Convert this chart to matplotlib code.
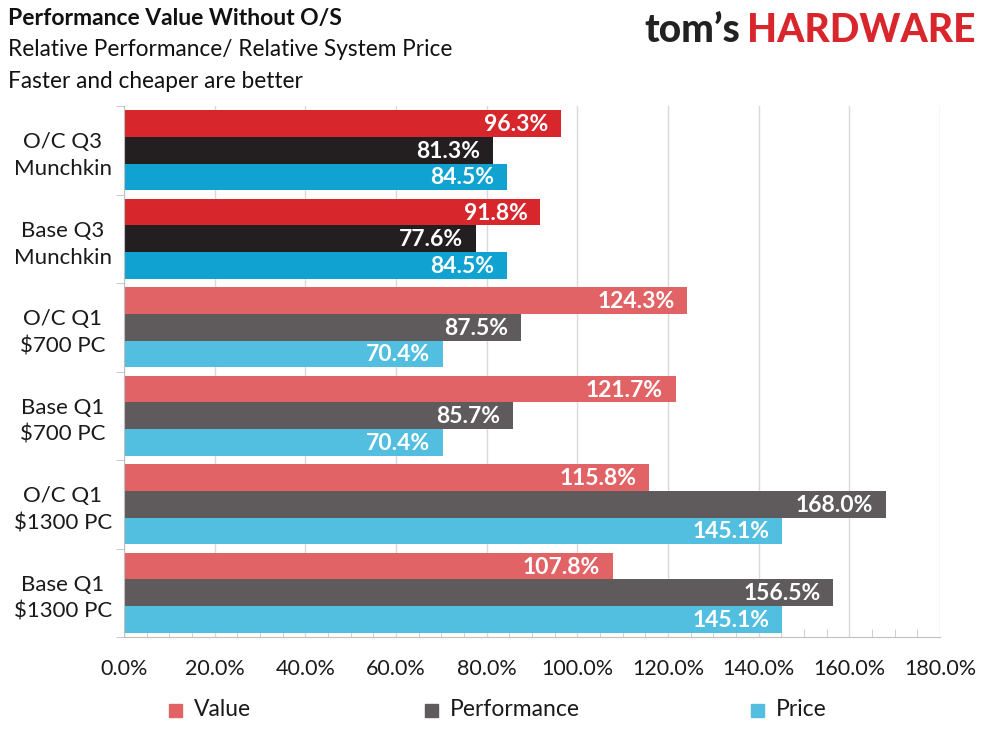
import numpy as np
import matplotlib.pyplot as plt

plt.rcParams['font.family'] = ['Lato', 'DejaVu Sans']

# data, top to bottom
systems = ['O/C Q3\nMunchkin', 'Base Q3\nMunchkin', 'O/C Q1\n$700 PC',
           'Base Q1\n$700 PC', 'O/C Q1\n$1300 PC', 'Base Q1\n$1300 PC']
value = [96.3, 91.8, 124.3, 121.7, 115.8, 107.8]
performance = [81.3, 77.6, 87.5, 85.7, 168.0, 156.5]
price = [84.5, 84.5, 70.4, 70.4, 145.1, 145.1]
series_names = ['Value', 'Performance', 'Price']
xticks = [0, 20, 40, 60, 80, 100, 120, 140, 160, 180]

# first two groups (Q3) use the strong colours, the rest the lighter ones
dark = ['#d7262c', '#231f20', '#10a2d0']
light = ['#e26366', '#5f5b5c', '#52bee0']

fig = plt.figure(figsize=(9.89, 7.41), dpi=100)
W, H = 989, 741
ax = fig.add_axes([124 / W, 1 - 637 / H, (940 - 124) / W, (637 - 106) / H])

y = np.arange(len(systems))
h = 0.3
all_series = [value, performance, price]
for k, vals in enumerate(all_series):
    cols = [dark[k] if i < 2 else light[k] for i in range(len(systems))]
    pos = y + (k - 1) * h
    ax.barh(pos, vals, height=h, color=cols, zorder=2)
    for p, v in zip(pos, vals):
        ax.text(v - 2.8, p + 0.01, f'{v:.1f}%', ha='right', va='center',
                color='white', fontsize=16.5, fontweight='bold', zorder=3)

ax.set_xlim(0, 180)
ax.set_ylim(len(systems) - 0.5, -0.5)
ax.set_xticks(xticks)
ax.set_xticklabels([f'{t:.1f}%' for t in xticks], fontsize=15.5, color='#1a1a1a')
ax.set_xticks(np.arange(0, 181, 5), minor=True)
ax.tick_params(axis='x', which='major', length=0, pad=16)
ax.tick_params(axis='x', which='minor', direction='in', length=6, color='#c8c8c8')
ax.grid(axis='x', which='major', color='#d9d9d9', lw=1, zorder=0)

ax.set_yticks(y)
ax.set_yticklabels(systems, fontsize=16, color='#1a1a1a', ha='center',
                   linespacing=1.45)
ax.tick_params(axis='y', which='major', length=0, pad=44)
ax.set_yticks(np.arange(-0.5, len(systems), 1), minor=True)
ax.tick_params(axis='y', which='minor', direction='out', length=6, color='#bfbfbf')

for s in ['top', 'right']:
    ax.spines[s].set_visible(False)
for s in ['left', 'bottom']:
    ax.spines[s].set_color('#bfbfbf')

# legend
leg_x = [176, 432, 758]
for hx, name, c in zip(leg_x, series_names, light):
    fig.patches.append(plt.Rectangle(((hx - 7) / W, 1 - 717 / H), 13 / W, 13 / H,
                                     color=c, transform=fig.transFigure))
    fig.text((hx + 18) / W, 1 - 710 / H, name, fontsize=16.5, va='center', color='#1a1a1a')

# titles
fig.text(8 / W, 1 - 19 / H, 'Performance Value Without O/S', fontsize=16.5,
         fontweight='bold', va='center', color='#111111')
fig.text(8 / W, 1 - 50 / H, 'Relative Performance/ Relative System Price',
         fontsize=16.3, va='center', color='#111111')
fig.text(8 / W, 1 - 81 / H, 'Faster and cheaper are better', fontsize=16.3,
         va='center', color='#111111')

# logo
hw = fig.text(975 / W, 1 - 31 / H, 'HARDWARE', fontsize=28, fontweight='black',
              color='#d9262c', ha='right', va='center')
fig.canvas.draw()
bb = hw.get_window_extent()
fig.text((bb.x0 - 6) / W, 1 - 31 / H, "tom\u2019s", fontsize=28, fontweight='black',
         color='#222222', ha='right', va='center')

fig.savefig('out.png', dpi=100)
